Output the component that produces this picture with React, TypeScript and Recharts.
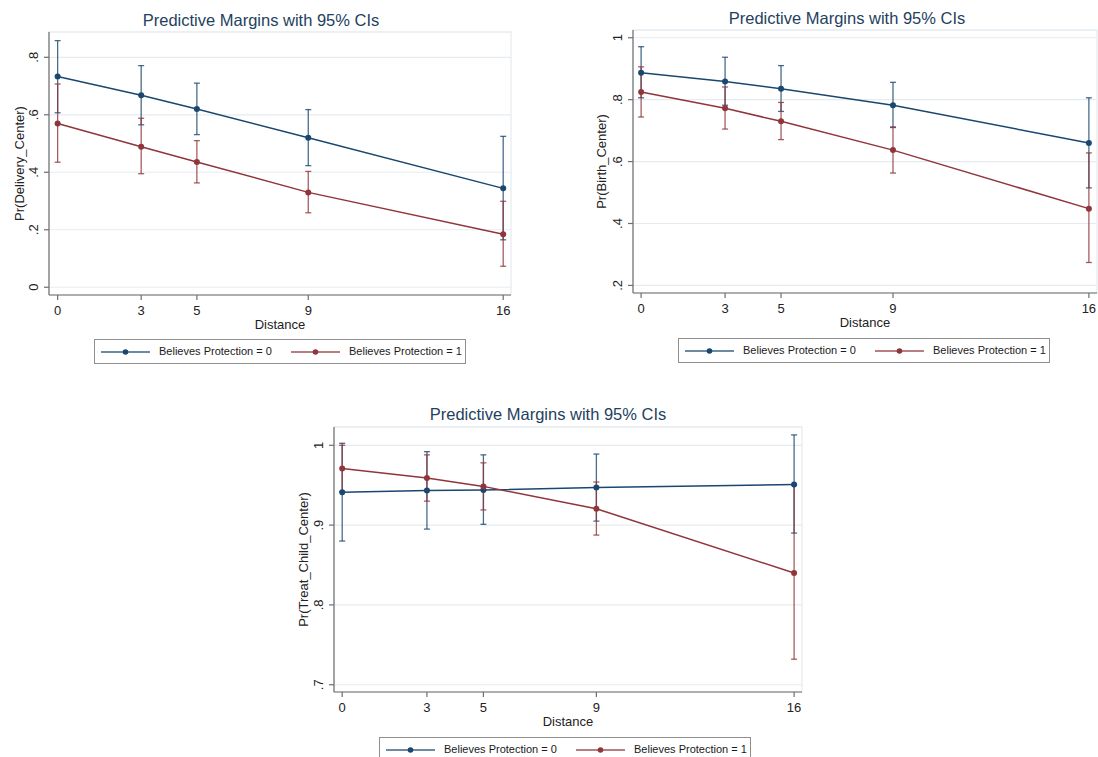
import React from 'react';
import { LineChart, Line, XAxis, YAxis, CartesianGrid, ErrorBar, Legend, ReferenceArea } from 'recharts';

// distance categories shared by all three panels
const distance = [0, 3, 5, 9, 16];

// Pr(Delivery_Center)
const deliveryFit0 = [0.733, 0.668, 0.62, 0.52, 0.344];
const deliveryLow0 = [0.607, 0.565, 0.531, 0.423, 0.165];
const deliveryHigh0 = [0.858, 0.771, 0.71, 0.618, 0.525];
const deliveryFit1 = [0.57, 0.489, 0.436, 0.33, 0.184];
const deliveryLow1 = [0.435, 0.395, 0.363, 0.259, 0.073];
const deliveryHigh1 = [0.707, 0.588, 0.51, 0.403, 0.299];
const deliveryTicks = [0, 0.2, 0.4, 0.6, 0.8];

// Pr(Birth_Center)
const birthFit0 = [0.887, 0.859, 0.835, 0.782, 0.66];
const birthLow0 = [0.806, 0.782, 0.762, 0.71, 0.515];
const birthHigh0 = [0.971, 0.937, 0.91, 0.856, 0.806];
const birthFit1 = [0.825, 0.772, 0.73, 0.637, 0.448];
const birthLow1 = [0.744, 0.705, 0.671, 0.563, 0.274];
const birthHigh1 = [0.906, 0.841, 0.791, 0.712, 0.628];
const birthTicks = [0.2, 0.4, 0.6, 0.8, 1];

// Pr(Treat_Child_Center)
const treatFit0 = [0.941, 0.9435, 0.944, 0.947, 0.951];
const treatLow0 = [0.88, 0.895, 0.901, 0.905, 0.89];
const treatHigh0 = [1.0025, 0.992, 0.988, 0.989, 1.013];
const treatFit1 = [0.971, 0.959, 0.9485, 0.9205, 0.84];
const treatLow1 = [0.942, 0.93, 0.919, 0.8875, 0.732];
const treatHigh1 = [1.0, 0.988, 0.978, 0.954, 0.95];
const treatTicks = [0.7, 0.8, 0.9, 1];

const seriesNames = ['Believes Protection = 0', 'Believes Protection = 1'];
const title = 'Predictive Margins with 95% CIs';

const BLUE = '#1a476f';
const RED = '#90353b';
const GRID = '#e4ecf0';
const AXIS = '#6e6e6e';
const INK = '#222';

function buildRows(f0: number[], lo0: number[], hi0: number[], f1: number[], lo1: number[], hi1: number[]) {
  return distance.map((d, i) => ({
    d,
    m0: f0[i],
    m1: f1[i],
    e0: [f0[i] - lo0[i], hi0[i] - f0[i]],
    e1: [f1[i] - lo1[i], hi1[i] - f1[i]],
  }));
}

const stataLabel = (v: number) => {
  const s = String(Math.round(v * 10) / 10);
  return s.startsWith('0.') ? s.slice(1) : s;
};

function YTick(props: any) {
  const { x, y, payload } = props;
  const bx = x - 4.3;
  return (
    <text x={bx} y={y} transform={`rotate(-90, ${bx}, ${y})`} textAnchor="middle" fontSize={13} fill={INK}>
      {stataLabel(payload.value)}
    </text>
  );
}

function yTitle(text: string, cx: number) {
  return (props: any) => {
    const vb = props.viewBox || {};
    const cy = vb.y + vb.height / 2;
    const bx = cx + 4.5;
    return (
      <text x={bx} y={cy} transform={`rotate(-90, ${bx}, ${cy})`} textAnchor="middle" fontSize={13} fill={INK}>
        {text}
      </text>
    );
  };
}

function LegendBox() {
  const colors = [BLUE, RED];
  const offsets = [6, 196];
  return (
    <div style={{ width: 372, height: 25, border: '1px solid #8f8f8f', boxSizing: 'border-box', position: 'relative', background: '#fff' }}>
      {seriesNames.map((name, i) => (
        <div key={name} style={{ position: 'absolute', left: offsets[i], top: 0, height: 23, display: 'flex', alignItems: 'center' }}>
          <svg width={50} height={10} style={{ display: 'block' }}>
            <line x1={0} y1={5} x2={49} y2={5} stroke={colors[i]} strokeWidth={1.4} strokeOpacity={0.85} />
            <circle cx={24.5} cy={5} r={2.8} fill={colors[i]} />
          </svg>
          <span style={{ marginLeft: 8, fontSize: 11, color: '#1a1a1a', whiteSpace: 'nowrap', lineHeight: '23px' }}>{name}</span>
        </div>
      ))}
    </div>
  );
}

interface PanelProps {
  left: number;
  top: number;
  width: number;
  height: number;
  margin: { top: number; right: number; bottom: number; left: number };
  yWidth: number;
  xDomain: [number, number];
  yDomain: [number, number];
  yTicks: number[];
  yLabel: string;
  yLabelX: number;
  rows: ReturnType<typeof buildRows>;
  titleX: number;
  titleBaseline: number;
  legendPos: { left: number; top: number };
}

function Panel(p: PanelProps) {
  return (
    <div style={{ position: 'absolute', left: p.left, top: p.top, width: p.width, height: p.height }}>
      <div
        style={{
          position: 'absolute',
          left: p.titleX - 200,
          width: 400,
          top: p.titleBaseline - 15.7,
          textAlign: 'center',
          fontSize: 16.5,
          lineHeight: '20px',
          color: '#243f60',
          zIndex: 2,
        }}
      >
        {title}
      </div>
      <LineChart width={p.width} height={p.height} data={p.rows} margin={p.margin}>
        <CartesianGrid horizontal vertical={false} stroke={GRID} strokeWidth={1.2} />
        <ReferenceArea
          x1={p.xDomain[0]}
          x2={p.xDomain[1]}
          y1={p.yDomain[0]}
          y2={p.yDomain[1]}
          fill="none"
          stroke={GRID}
          strokeWidth={1.2}
          ifOverflow="visible"
        />
        <XAxis
          dataKey="d"
          type="number"
          domain={p.xDomain}
          ticks={distance}
          interval={0}
          allowDataOverflow
          height={40}
          tickSize={5}
          tickMargin={6}
          stroke={AXIS}
          strokeWidth={1.2}
          tick={{ fontSize: 13, fill: INK }}
          label={{ value: 'Distance', position: 'insideBottom', offset: 6, fontSize: 13, fill: INK }}
        />
        <YAxis
          type="number"
          domain={p.yDomain}
          ticks={p.yTicks}
          interval={0}
          allowDataOverflow
          width={p.yWidth}
          tickSize={5}
          tickMargin={2}
          stroke={AXIS}
          strokeWidth={1.2}
          tick={<YTick />}
          label={{ content: yTitle(p.yLabel, p.yLabelX) } as any}
        />
        <Line
          dataKey="m0"
          name={seriesNames[0]}
          stroke={BLUE}
          strokeWidth={1.5}
          dot={{ r: 3, fill: BLUE, stroke: BLUE, strokeWidth: 0 }}
          activeDot={false}
          isAnimationActive={false}
        >
          <ErrorBar dataKey="e0" direction="y" width={3} stroke={BLUE} strokeWidth={1.3} strokeOpacity={0.8} isAnimationActive={false} />
        </Line>
        <Line
          dataKey="m1"
          name={seriesNames[1]}
          stroke={RED}
          strokeWidth={1.5}
          dot={{ r: 3, fill: RED, stroke: RED, strokeWidth: 0 }}
          activeDot={false}
          isAnimationActive={false}
        >
          <ErrorBar dataKey="e1" direction="y" width={3} stroke={RED} strokeWidth={1.3} strokeOpacity={0.8} isAnimationActive={false} />
        </Line>
        <Legend
          layout="horizontal"
          verticalAlign="middle"
          align="center"
          wrapperStyle={{ left: p.legendPos.left, top: p.legendPos.top, width: 372 }}
          content={() => <LegendBox />}
        />
      </LineChart>
    </div>
  );
}

const deliveryRows = buildRows(deliveryFit0, deliveryLow0, deliveryHigh0, deliveryFit1, deliveryLow1, deliveryHigh1);
const birthRows = buildRows(birthFit0, birthLow0, birthHigh0, birthFit1, birthLow1, birthHigh1);
const treatRows = buildRows(treatFit0, treatLow0, treatHigh0, treatFit1, treatLow1, treatHigh1);

export default function App() {
  return (
    <div
      style={{
        position: 'absolute',
        left: 0,
        top: 0,
        width: 1098,
        height: 757,
        overflow: 'hidden',
        background: '#fff',
        fontFamily: '"Liberation Sans", Arial, sans-serif',
      }}
    >
      <Panel
        left={0}
        top={0}
        width={520}
        height={370}
        margin={{ top: 32, right: 9, bottom: 35, left: 0 }}
        yWidth={49}
        xDomain={[-0.31, 16.28]}
        yDomain={[-0.027, 0.888]}
        yTicks={deliveryTicks}
        yLabel="Pr(Delivery_Center)"
        yLabelX={19}
        rows={deliveryRows}
        titleX={261}
        titleBaseline={26}
        legendPos={{ left: 94, top: 339 }}
      />
      <Panel
        left={560}
        top={0}
        width={538}
        height={370}
        margin={{ top: 30, right: 1, bottom: 37, left: 0 }}
        yWidth={73}
        xDomain={[-0.29, 16.29]}
        yDomain={[0.1755, 1.025]}
        yTicks={birthTicks}
        yLabel="Pr(Birth_Center)"
        yLabelX={41}
        rows={birthRows}
        titleX={287}
        titleBaseline={24}
        legendPos={{ left: 118, top: 338 }}
      />
      <Panel
        left={270}
        top={395}
        width={540}
        height={362}
        margin={{ top: 32, right: 8, bottom: 25, left: 0 }}
        yWidth={64}
        xDomain={[-0.29, 16.28]}
        yDomain={[0.6909, 1.0229]}
        yTicks={treatTicks}
        yLabel="Pr(Treat_Child_Center)"
        yLabelX={33}
        rows={treatRows}
        titleX={278}
        titleBaseline={25}
        legendPos={{ left: 109, top: 342 }}
      />
    </div>
  );
}
